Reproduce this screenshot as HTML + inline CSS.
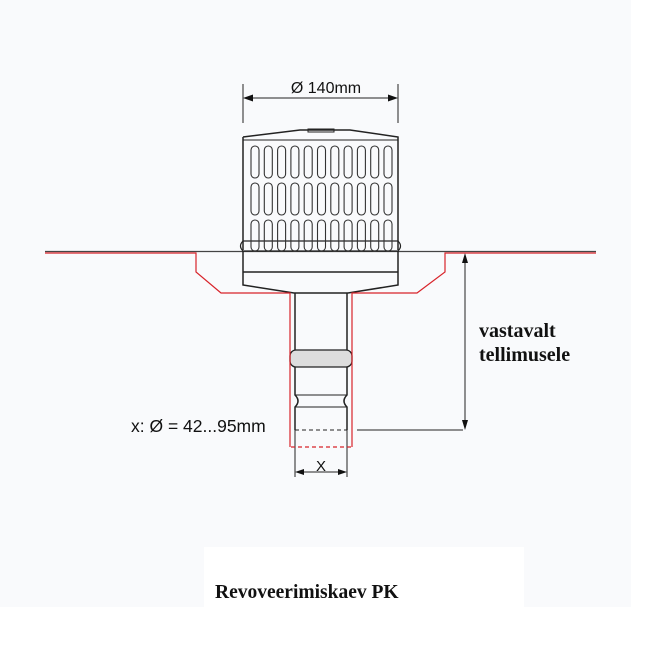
<!DOCTYPE html>
<html><head><meta charset="utf-8"><style>
body{margin:0;background:#fff;}
svg{display:block}
</style></head><body>
<svg width="651" height="651" viewBox="0 0 651 651" xmlns="http://www.w3.org/2000/svg">
<rect x="0" y="0" width="631" height="607" fill="#f9fafc"/>
<rect x="204" y="547" width="320" height="60" fill="#fff"/>
<g fill="none" stroke="#222" stroke-width="1.5">
<line x1="45" y1="251.5" x2="596" y2="251.5" stroke="#444" stroke-width="1.2"/>
<line x1="243" y1="84" x2="243" y2="123" stroke-width="1"/>
<line x1="398" y1="84" x2="398" y2="123" stroke-width="1"/>
<line x1="246" y1="98" x2="395" y2="98" stroke-width="1"/>
<path d="M243,137 L300,130 L350,130 L398,137 L398,250 M243,137 L243,250"/>
<line x1="243" y1="140" x2="398" y2="140" stroke-width="1"/>
<rect x="308" y="129" width="26" height="3" stroke-width="1"/>
<path d="M243,241 Q238,246 243,251 L398,251 Q403,246 398,241 Z" stroke-width="1.2"/>
<path d="M243,251 L243,285 L294,293 L348,293 L398,285 L398,251"/>
<line x1="243" y1="272" x2="398" y2="272"/>
<path d="M295,293 L295,395 Q301,401 295,407 L295,430 M347,293 L347,395 Q341,401 347,407 L347,430"/>
<line x1="295" y1="395" x2="347" y2="395" stroke-width="1"/>
<line x1="295" y1="407" x2="347" y2="407" stroke-width="1"/>
<line x1="295" y1="430" x2="347" y2="430" stroke-dasharray="4,3" stroke-width="1"/>
<rect x="290" y="350" width="62" height="17" rx="6" fill="#ddd" stroke-width="1.3"/>
<line x1="295" y1="430" x2="295" y2="477" stroke-width="1"/>
<line x1="347" y1="430" x2="347" y2="477" stroke-width="1"/>
<line x1="298" y1="472" x2="344" y2="472" stroke-width="1"/>
<line x1="465" y1="256" x2="465" y2="427" stroke-width="1"/>
<line x1="357" y1="430" x2="463" y2="430" stroke-width="1"/>
</g>
<g fill="#111">
<path d="M243,98 l10,-3.5 v7z M398,98 l-10,-3.5 v7z"/>
<path d="M295,472 l9,-3 v6z M347,472 l-9,-3 v6z"/>
<path d="M465,253 l-3,10 h6z M465,430 l-3,-10 h6z"/>
</g>
<g fill="none" stroke="#333" stroke-width="1.1">
<g id="s">
<rect x="251" y="146" width="8" height="32" rx="4"/><rect x="251" y="183" width="8" height="32" rx="4"/><rect x="251" y="220" width="8" height="31" rx="4"/>
</g>
<use href="#s" x="13.3"/><use href="#s" x="26.6"/><use href="#s" x="39.9"/><use href="#s" x="53.2"/><use href="#s" x="66.5"/><use href="#s" x="79.8"/><use href="#s" x="93.1"/><use href="#s" x="106.4"/><use href="#s" x="119.7"/><use href="#s" x="133"/>
</g>
<path d="M45,253 L196,253 L196,272 L221,293 L290,293 L290,447 M352,447 L352,293 L417,293 L445,272 L445,253 L596,253" fill="none" stroke="#d8232a" stroke-width="1.2"/>
<line x1="291" y1="447" x2="351" y2="447" stroke="#d8232a" stroke-width="1.2" stroke-dasharray="4,3"/>
<g font-family="Liberation Sans, sans-serif" fill="#111">
<text x="326" y="93" font-size="16" text-anchor="middle">Ø 140mm</text>
<text x="131" y="432" font-size="17.5">x: Ø = 42...95mm</text>
<text x="321" y="471" font-size="15" text-anchor="middle">X</text>
</g>
<g font-family="Liberation Serif, serif" font-weight="bold" fill="#111">
<text x="479" y="337" font-size="20">vastavalt</text>
<text x="479" y="361" font-size="20">tellimusele</text>
<text x="215" y="598" font-size="19.5">Revoveerimiskaev PK</text>
</g>
</svg>
</body></html>
